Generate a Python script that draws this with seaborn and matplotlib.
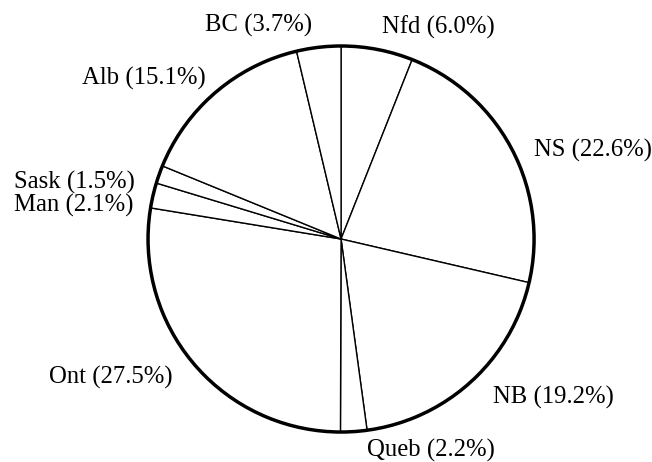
import matplotlib
matplotlib.use("Agg")
import matplotlib.pyplot as plt
import seaborn as sns

# Provinces and their shares (%), clockwise from the top
provinces = ["Nfd", "NS", "NB", "Queb", "Ont", "Man", "Sask", "Alb", "BC"]
shares = [6.0, 22.6, 19.2, 2.2, 27.5, 2.1, 1.5, 15.1, 3.7]

# label anchor points, in pie-radius units from the centre
label_pos = [(0.503, 1.098), (1.306, 0.461), (1.098, -0.819), (0.466, -1.093),
             (-1.192, -0.715), (-1.383, 0.176), (-1.383, 0.295), (-1.021, 0.834),
             (-0.425, 1.109)]

sns.set_theme(style="white")
plt.rcParams['font.family'] = ['Liberation Serif', 'DejaVu Serif']

fig = plt.figure(figsize=(6.52, 4.62), dpi=100)
ax = fig.add_axes([0, 0, 1, 1])

ax.pie(shares, startangle=90, counterclock=False, radius=1.0,
       colors=["white"] * len(shares),
       wedgeprops=dict(edgecolor="black", linewidth=1.0))
# heavier outer rim
ax.pie([sum(shares)], radius=1.0, colors=["none"],
       wedgeprops=dict(edgecolor="black", linewidth=2.5, fill=False))

for name, val, (x, y) in zip(provinces, shares, label_pos):
    ax.text(x, y, f"{name} ({val:.1f}%)", ha="center", va="center",
            fontsize=17.8, color="black")

ax.set_xlim(-1.767, 1.611)
ax.set_ylim(-1.155, 1.238)
ax.set_aspect("equal")
ax.axis("off")

fig.savefig("out.png", dpi=100, facecolor="white")
plt.close(fig)
